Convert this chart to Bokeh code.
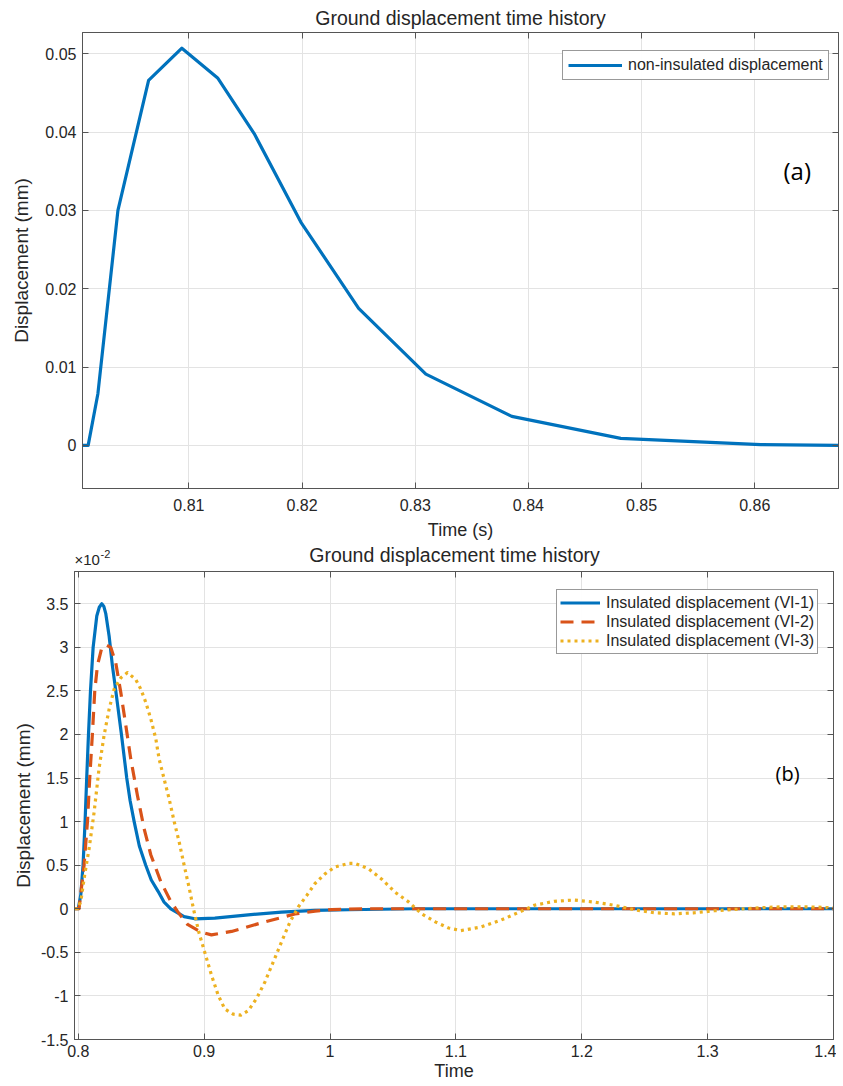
from bokeh.plotting import figure
from bokeh.models import (FixedTicker, CustomJSTickFormatter, LinearAxis, Label,
                          Range1d)
from bokeh.embed import file_html
from bokeh.resources import INLINE

# ---------------- data: panel (a) non-insulated displacement (mm) -------------
t_a = [0.8006, 0.8011, 0.80196, 0.80373, 0.80644, 0.80938, 0.81254, 0.81577,
       0.81989, 0.8250, 0.83094, 0.83853, 0.84816, 0.86053, 0.8674]
disp_a = [0.0, 0.0, 0.0066, 0.0300, 0.0466, 0.0507, 0.0469, 0.0398,
          0.0285, 0.0175, 0.0091, 0.0037, 0.0009, 0.0001, 0.0]

# ---------------- data: panel (b) insulated displacement (x 1e-2 mm) ----------
t_vi1 = [0.797, 0.800, 0.802, 0.8038, 0.8054, 0.8067, 0.8081, 0.8097, 0.8118,
         0.8147, 0.8167, 0.8187, 0.8203, 0.8218, 0.8245, 0.8271, 0.8298, 0.8343,
         0.8385, 0.8412, 0.8444, 0.8485, 0.8536, 0.858, 0.8634, 0.868, 0.8735,
         0.8841, 0.8926, 0.9085, 0.935, 0.9615, 0.988, 1.0146, 1.0676, 1.2, 1.4]
vi1 = [0, 0, 0.16, 0.5, 1.0, 1.5, 2.0, 2.5, 3.0, 3.36, 3.46, 3.5, 3.47, 3.39,
       3.13, 2.79, 2.5, 2.0, 1.5, 1.24, 1.0, 0.72, 0.5, 0.33, 0.2, 0.08, 0.0,
       -0.09, -0.115, -0.107, -0.069, -0.038, -0.019, -0.011, 0.0, 0.0, 0.0]

t_vi2 = [0.797, 0.8006, 0.8046, 0.8073, 0.8091, 0.8112, 0.8131, 0.8152, 0.8184,
         0.8219, 0.8258, 0.8298, 0.8338, 0.8378, 0.8417, 0.847, 0.8523, 0.8576,
         0.8656, 0.8735, 0.8788, 0.8868, 0.8979, 0.9058, 0.9218, 0.9483, 0.9721,
         0.9881, 1.0013, 1.0279, 1.2, 1.4]
vi2 = [0, 0, 0.5, 1.0, 1.5, 2.0, 2.5, 2.79, 2.98, 3.03, 3.0, 2.82, 2.48, 2.1,
       1.72, 1.30, 0.92, 0.62, 0.31, 0.084, -0.03, -0.18, -0.27, -0.30, -0.26,
       -0.15, -0.06, -0.027, -0.01, 0.0, 0.0, 0.0]

t_vi3 = [0.797, 0.7993, 0.802, 0.8051, 0.8086, 0.8126, 0.8165, 0.8205, 0.8245,
         0.8285, 0.8338, 0.8391, 0.8457, 0.8497, 0.8536, 0.8576, 0.8616, 0.8642,
         0.8682, 0.8722, 0.8762, 0.8801, 0.8841, 0.8881, 0.8915, 0.8958, 0.9005,
         0.9058, 0.9111, 0.9164, 0.9231, 0.9292, 0.935, 0.9416, 0.9483, 0.9549,
         0.9615, 0.9682, 0.9748, 0.9814, 0.9881, 0.996, 1.004, 1.0146, 1.0199,
         1.0305, 1.0411, 1.0517, 1.0623, 1.0729, 1.0836, 1.0942, 1.104, 1.1199,
         1.1358, 1.1517, 1.1623, 1.1781, 1.194, 1.2099, 1.2258, 1.2417, 1.2576,
         1.2735, 1.2894, 1.3053, 1.3212, 1.3371, 1.353, 1.3689, 1.3848, 1.4]
vi3 = [0, 0, 0.084, 0.39, 0.69, 1.11, 1.61, 1.99, 2.29, 2.52, 2.65, 2.71, 2.63,
       2.52, 2.37, 2.18, 1.95, 1.72, 1.49, 1.26, 1.0, 0.77, 0.50, 0.24, 0.0,
       -0.27, -0.5, -0.76, -0.99, -1.15, -1.21, -1.22, -1.17, -1.03, -0.84,
       -0.61, -0.38, -0.15, 0.02, 0.15, 0.29, 0.40, 0.48, 0.52, 0.52, 0.46, 0.34,
       0.19, 0.08, -0.06, -0.15, -0.22, -0.25, -0.21, -0.13, -0.03, 0.04, 0.085,
       0.10, 0.077, 0.04, -0.01, -0.046, -0.058, -0.046, -0.023, -0.008, 0.008,
       0.02, 0.023, 0.02, 0.01]

xticks_a = [0.81, 0.82, 0.83, 0.84, 0.85, 0.86]
yticks_a = [0, 0.01, 0.02, 0.03, 0.04, 0.05]
xticks_b = [0.8, 0.9, 1, 1.1, 1.2, 1.3, 1.4]
yticks_b = [-1.5, -1, -0.5, 0, 0.5, 1, 1.5, 2, 2.5, 3, 3.5]

title_text = "Ground displacement time history"
label_a = "non-insulated displacement"
labels_b = ["Insulated displacement (VI-1)", "Insulated displacement (VI-2)",
            "Insulated displacement (VI-3)"]

# ---------------- styling ----------------
FONT = "Liberation Sans"
TXT = "#262626"
FRAME = "#555555"
GRID = "#e3e3e3"
BLUE, ORANGE, YELLOW = "#0072BD", "#D95319", "#EDB120"
fmt = "return String(tick);"


def header(width, height):
    h = figure(width=width, height=height, output_backend="svg",
               toolbar_location=None, x_axis_location=None, y_axis_location=None,
               x_range=Range1d(0, 1), y_range=Range1d(0, 1),
               min_border=0, min_border_left=0, min_border_right=0,
               min_border_top=0, min_border_bottom=0)
    h.outline_line_color = None
    h.grid.visible = False
    h.background_fill_color = "white"
    h.border_fill_color = "white"
    return h


def setup(p, xticks, yticks, xlabel, ylabel, xstand, ystand, xlstand, ylstand):
    p.outline_line_color = FRAME
    p.outline_line_width = 1
    p.background_fill_color = "white"
    p.border_fill_color = "white"
    for ax, ticks in ((p.xaxis[0], xticks), (p.yaxis[0], yticks)):
        ax.ticker = FixedTicker(ticks=ticks)
        ax.formatter = CustomJSTickFormatter(code=fmt)
        ax.axis_line_color = FRAME
        ax.major_tick_line_color = FRAME
        ax.major_tick_in = 6
        ax.major_tick_out = 0
        ax.minor_tick_line_color = None
        ax.major_label_text_font = FONT
        ax.major_label_text_font_size = "16px"
        ax.major_label_text_color = TXT
        ax.axis_label_text_font = FONT
        ax.axis_label_text_font_style = "normal"
        ax.axis_label_text_color = TXT
    p.xaxis[0].axis_label_text_font_size = "18px"
    p.yaxis[0].axis_label_text_font_size = "19px"
    p.xaxis[0].axis_label = xlabel
    p.yaxis[0].axis_label = ylabel
    p.xaxis[0].major_label_standoff = xstand
    p.yaxis[0].major_label_standoff = ystand
    p.xaxis[0].axis_label_standoff = xlstand
    p.yaxis[0].axis_label_standoff = ylstand
    p.xgrid.grid_line_color = GRID
    p.ygrid.grid_line_color = GRID
    p.xgrid.ticker = FixedTicker(ticks=xticks)
    p.ygrid.ticker = FixedTicker(ticks=yticks)
    for loc, ticks in (("above", xticks), ("right", yticks)):
        ax = LinearAxis(ticker=FixedTicker(ticks=ticks),
                        formatter=CustomJSTickFormatter(code="return '';"),
                        major_label_text_font_size="0px",
                        major_label_standoff=0,
                        major_tick_in=6, major_tick_out=0,
                        minor_tick_line_color=None,
                        axis_line_color=FRAME, major_tick_line_color=FRAME)
        p.add_layout(ax, loc)


def style_legend(lg, pad, gw, gh):
    lg.label_text_font = FONT
    lg.label_text_font_size = "16px"
    lg.label_text_color = TXT
    lg.glyph_width = gw
    lg.glyph_height = gh
    lg.label_height = gh
    lg.label_standoff = 6
    lg.padding = pad
    lg.spacing = 0
    lg.margin = 0
    lg.border_line_color = "#333333"
    lg.border_line_width = 1


# ---------------- header (a) ----------------
h1 = header(841, 30)
h1.add_layout(Label(x=460, y=13, x_units="screen", y_units="screen",
                    text=title_text, text_align="center", text_baseline="middle",
                    text_font=FONT, text_font_size="19.5px", text_color=TXT))

# ---------------- panel (a) ----------------
p1 = figure(width=841, height=512, output_backend="svg", toolbar_location=None,
            x_range=Range1d(0.8006, 0.8674), y_range=Range1d(-0.0055, 0.0527),
            min_border_left=82, min_border_right=3, min_border_top=2,
            min_border_bottom=54)
setup(p1, xticks_a, yticks_a, "Time (s)", "Displacement (mm)", 10, 6, 6, 10)
p1.line(t_a, disp_a, line_color=BLUE, line_width=3.2, line_join="round",
        legend_label=label_a)
lg = p1.legend[0]
style_legend(lg, 5, 54, 18)
lg.location = (480, 408)
p1.add_layout(Label(x=701, y=318, x_units="screen", y_units="screen",
                    text="(a)", text_align="left", text_baseline="middle",
                    text_font="Open Sans", text_font_size="24px",
                    text_color="black"))

# ---------------- header (b) ----------------
h2 = header(841, 27)
h2.add_layout(Label(x=454, y=15, x_units="screen", y_units="screen",
                    text=title_text, text_align="center", text_baseline="middle",
                    text_font=FONT, text_font_size="19.5px", text_color=TXT))
h2.add_layout(Label(x=74, y=10, x_units="screen", y_units="screen",
                    text="\u00d710", text_align="left", text_baseline="middle",
                    text_font=FONT, text_font_size="15px", text_color=TXT))
h2.add_layout(Label(x=100, y=16, x_units="screen", y_units="screen",
                    text="-2", text_align="left", text_baseline="middle",
                    text_font=FONT, text_font_size="11px", text_color=TXT))

# ---------------- panel (b) ----------------
p2 = figure(width=836, height=517, output_backend="svg", toolbar_location=None,
            x_range=Range1d(0.797, 1.4), y_range=Range1d(-1.5, 3.87),
            min_border_left=74, min_border_right=3, min_border_top=2,
            min_border_bottom=47)
setup(p2, xticks_b, yticks_b, "Time", "Displacement (mm)", 5, 6, 1, 4)
p2.line(t_vi1, vi1, line_color=BLUE, line_width=3.2, line_join="round",
        legend_label=labels_b[0])
p2.line(t_vi2, vi2, line_color=ORANGE, line_width=3.2, line_join="round",
        line_dash="13 8", legend_label=labels_b[1])
p2.line(t_vi3, vi3, line_color=YELLOW, line_width=3.2, line_join="round",
        line_dash="3 4", legend_label=labels_b[2])
lg2 = p2.legend[0]
style_legend(lg2, 3, 40, 19)
lg2.location = (482, 385)
p2.add_layout(Label(x=701, y=266, x_units="screen", y_units="screen",
                    text="(b)", text_align="left", text_baseline="middle",
                    text_font="Open Sans", text_font_size="20px",
                    text_color="black"))

open("out.html", "w").write(file_html([h1, p1, h2, p2], INLINE,
                                      title="Ground displacement"))
